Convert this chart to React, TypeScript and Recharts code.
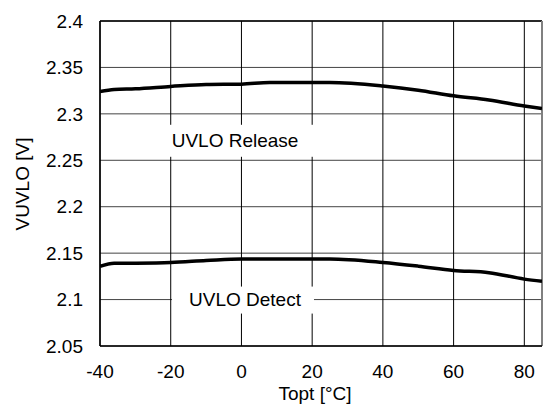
import React from 'react';
import { LineChart, Line, XAxis, YAxis, CartesianGrid, ReferenceLine, ReferenceDot } from 'recharts';

const temps = [-40, -36, -30, -20, -10, 0, 8, 25, 40, 50, 60, 70, 80, 85];
const releaseV = [2.324, 2.3262, 2.327, 2.3295, 2.3316, 2.332, 2.3338, 2.3338, 2.33, 2.3255, 2.3194, 2.315, 2.3085, 2.3057];
const detectV = [2.1358, 2.139, 2.1392, 2.140, 2.142, 2.1437, 2.1437, 2.1437, 2.14, 2.136, 2.1314, 2.129, 2.122, 2.1196];
const xTicks = [-40, -20, 0, 20, 40, 60, 80];
const yTicks = [2.05, 2.1, 2.15, 2.2, 2.25, 2.3, 2.35, 2.4];
const labelReleaseText = 'UVLO Release';
const labelDetectText = 'UVLO Detect';

const data = temps.map((t, i) => ({ t, release: releaseV[i], detect: detectV[i] }));

const FONT = '"Liberation Sans", Arial, sans-serif';

const boxLabel = (text: string, l: number, r: number, t: number, b: number) => (props: any) => {
  const { cx, cy } = props;
  return (
    <g>
      <rect x={cx + l} y={cy + t} width={r - l} height={b - t} fill="#fff" />
      <text x={cx} y={cy} textAnchor="middle" dominantBaseline="central" fontFamily={FONT} fontSize={19} fill="#000">
        {text}
      </text>
    </g>
  );
};

export default function App() {
  return (
    <div style={{ position: 'absolute', left: 0, top: 0, background: '#fff' }}>
      <LineChart width={549} height={412} data={data} margin={{ top: 21, right: 7, bottom: 0, left: 0 }}>
        <CartesianGrid horizontal={true} vertical={false} stroke="#444" strokeWidth={1} />
        <CartesianGrid horizontal={false} vertical={true} stroke="#000" strokeWidth={1} />
        <XAxis
          dataKey="t"
          type="number"
          domain={[-40, 85]}
          ticks={xTicks}
          allowDataOverflow
          height={66}
          tickLine={false}
          tickSize={0}
          tickMargin={19}
          axisLine={{ stroke: '#000', strokeWidth: 1.5 }}
          tick={{ fill: '#000', fontSize: 19, fontFamily: FONT }}
          label={{ value: 'Topt [°C]', position: 'insideBottom', offset: 12, dx: -6, fill: '#000', fontSize: 19, fontFamily: FONT }}
        />
        <YAxis
          type="number"
          domain={[2.05, 2.4]}
          ticks={yTicks}
          allowDataOverflow
          width={100}
          tickLine={false}
          tickSize={0}
          tickMargin={17}
          axisLine={{ stroke: '#000', strokeWidth: 1.5 }}
          tick={{ fill: '#000', fontSize: 19, fontFamily: FONT }}
          label={{
            content: () => (
              <text x={22} y={184} transform="rotate(-90 22 184)" textAnchor="middle" dominantBaseline="central" fontFamily={FONT} fontSize={19} fill="#000">
                VUVLO [V]
              </text>
            ),
          }}
        />
        <ReferenceLine y={2.4} stroke="#000" strokeWidth={1.5} />
        <ReferenceLine x={85} stroke="#808080" strokeWidth={2} />
        <ReferenceDot x={-1.8} y={2.271} r={0} isFront shape={boxLabel(labelReleaseText, -75, 80, -16, 16)} />
        <ReferenceDot x={1} y={2.1} r={0} isFront shape={boxLabel(labelDetectText, -73, 69, -13, 14)} />
        <Line dataKey="release" stroke="#000" strokeWidth={3.5} dot={false} isAnimationActive={false} type="monotone" />
        <Line dataKey="detect" stroke="#000" strokeWidth={3.5} dot={false} isAnimationActive={false} type="monotone" />
      </LineChart>
    </div>
  );
}
